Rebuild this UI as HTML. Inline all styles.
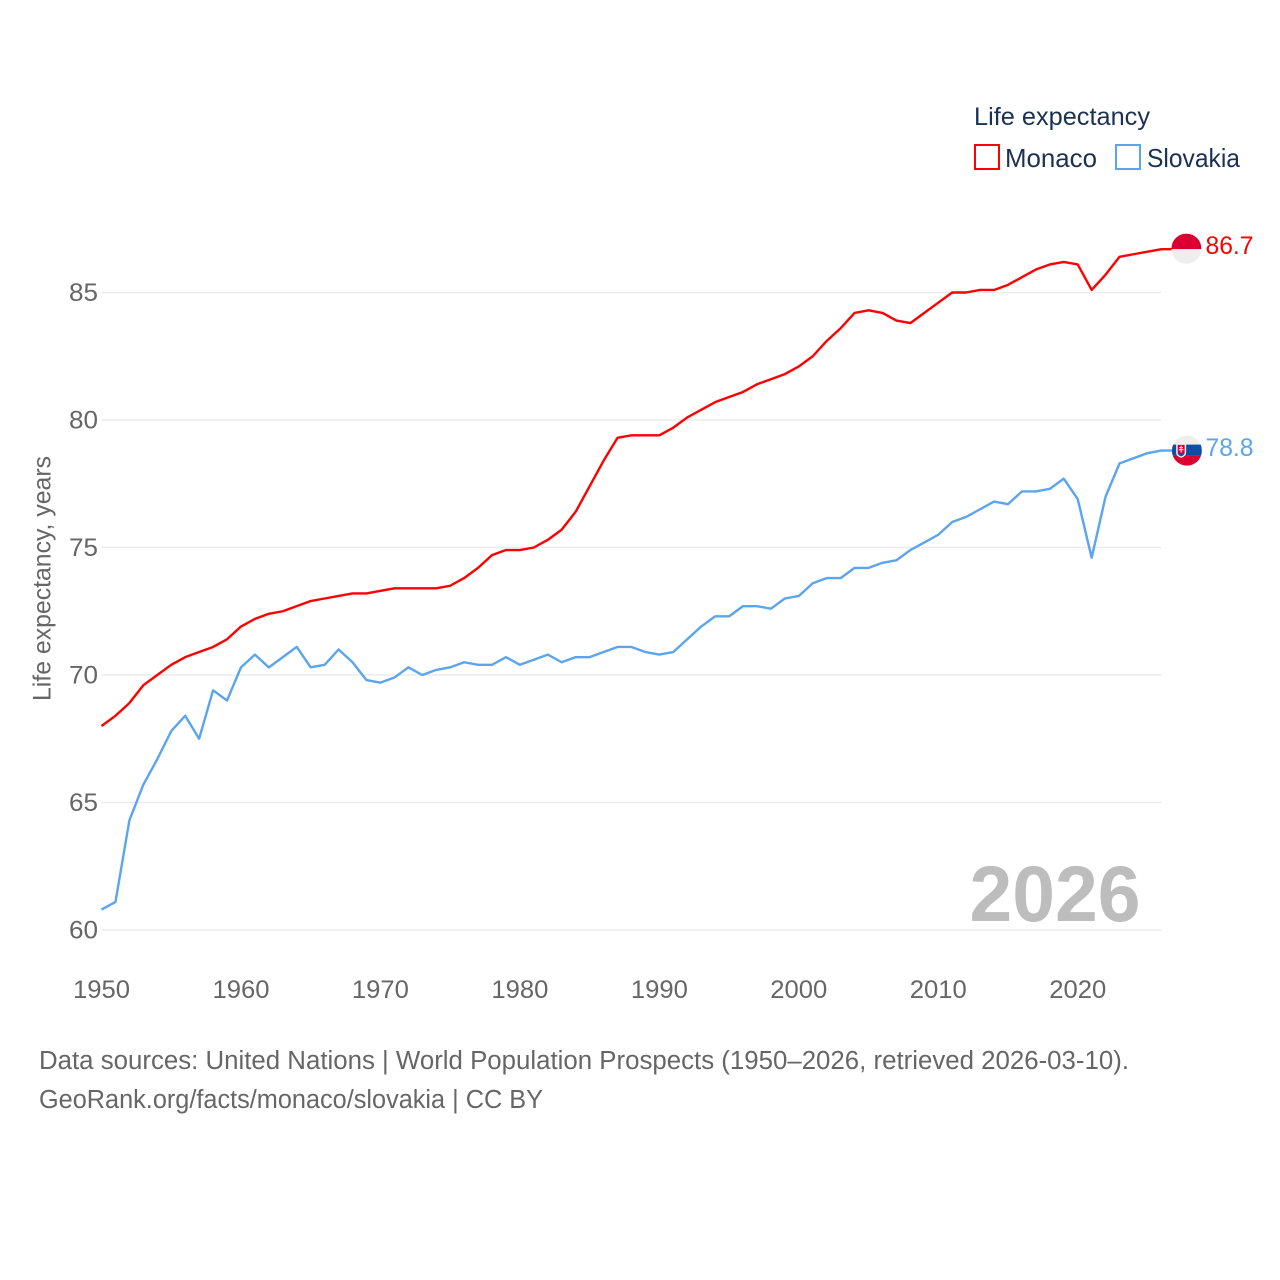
<!DOCTYPE html>
<html lang="en">
<head>
<meta charset="utf-8">
<title>Life expectancy: Monaco and Slovakia</title>
<style>
  html, body { margin: 0; padding: 0; background: #fff; }
  svg { display: block; font-family: "Liberation Sans", "DejaVu Sans", sans-serif; }
</style>
</head>
<body>
<svg id="chart" xmlns="http://www.w3.org/2000/svg" width="1280" height="1280" viewBox="0 0 1280 1280">
  <rect width="1280" height="1280" fill="#ffffff"/>
  <g id="grid"></g>
  <g id="yTicks"></g>
  <g id="xTicks"></g>
  <text transform="translate(50.5,701) rotate(-90)" font-size="25" fill="#666666" textLength="245" lengthAdjust="spacingAndGlyphs">Life expectancy, years</text>
  <text x="969.5" y="921" font-size="79" font-weight="bold" fill="#bdbdbd" textLength="171" lengthAdjust="spacingAndGlyphs">2026</text>
  <g id="series"></g>
  <g id="flagMonaco">
    <clipPath id="clipMonaco"><circle r="15"/></clipPath>
    <g clip-path="url(#clipMonaco)">
      <rect x="-15" y="-15" width="30" height="15.5" fill="#dc0030"/>
      <rect x="-15" y="0.5" width="30" height="15" fill="#eeeeee"/>
    </g>
  </g>
  <g id="flagSlovakia">
    <clipPath id="clipSlovakia"><circle r="15"/></clipPath>
    <g clip-path="url(#clipSlovakia)">
      <rect x="-15" y="-15" width="30" height="9" fill="#eeeeee"/>
      <rect x="-15" y="-6" width="30" height="11" fill="#0b4ea2"/>
      <rect x="-15" y="5" width="30" height="10.5" fill="#dc0030"/>
      <path d="M-10,-6.5 H-1.5 V2 Q-1.5,5 -5.7,6.5 Q-10,5 -10,2 Z" fill="#dc0030" stroke="#eeeeee" stroke-width="1.5"/>
      <path d="M-5.7,-5 V2 M-7.5,-3 H-4 M-8,-0.8 H-3.5" stroke="#ffffff" stroke-width="1" fill="none"/>
      <path d="M-9,3 Q-5.7,0.8 -2.5,3 Q-3.5,5 -5.7,5.8 Q-8,5 -9,3 Z" fill="#0b4ea2"/>
    </g>
  </g>
  <text id="labelMonaco" x="1205.5" font-size="25" fill="#ff0000" textLength="48" lengthAdjust="spacingAndGlyphs"></text>
  <text id="labelSlovakia" x="1205.5" font-size="25" fill="#5aa5ee" textLength="48" lengthAdjust="spacingAndGlyphs"></text>
  <g>
    <text x="974" y="125" font-size="25" fill="#1a3152" textLength="176" lengthAdjust="spacingAndGlyphs">Life expectancy</text>
    <g>
      <rect x="975" y="145" width="24" height="24" fill="none" stroke="#ff0000" stroke-width="2"/>
      <text x="1005" y="167" font-size="26" fill="#1a3152" textLength="92" lengthAdjust="spacingAndGlyphs">Monaco</text>
    </g>
    <g>
      <rect x="1116" y="145" width="24" height="24" fill="none" stroke="#5aa5ee" stroke-width="2"/>
      <text x="1147" y="167" font-size="26" fill="#1a3152" textLength="93" lengthAdjust="spacingAndGlyphs">Slovakia</text>
    </g>
  </g>
  <text x="39" y="1069" font-size="25.5" fill="#666666" textLength="1090" lengthAdjust="spacingAndGlyphs">Data sources: United Nations | World Population Prospects (1950–2026, retrieved 2026-03-10).</text>
  <text x="39" y="1108" font-size="25.5" fill="#666666" textLength="504" lengthAdjust="spacingAndGlyphs">GeoRank.org/facts/monaco/slovakia | CC BY</text>
</svg>
<script>
const startYear = 1950;
const xTickLabels = [1950, 1960, 1970, 1980, 1990, 2000, 2010, 2020];
const yTickLabels = [60, 65, 70, 75, 80, 85];
const monacoValues = [68.0,68.4,68.9,69.6,70.0,70.4,70.7,70.9,71.1,71.4,71.9,72.2,72.4,72.5,72.7,72.9,73.0,73.1,73.2,73.2,73.3,73.4,73.4,73.4,73.4,73.5,73.8,74.2,74.7,74.9,74.9,75.0,75.3,75.7,76.4,77.4,78.4,79.3,79.4,79.4,79.4,79.7,80.1,80.4,80.7,80.9,81.1,81.4,81.6,81.8,82.1,82.5,83.1,83.6,84.2,84.3,84.2,83.9,83.8,84.2,84.6,85.0,85.0,85.1,85.1,85.3,85.6,85.9,86.1,86.2,86.1,85.1,85.7,86.4,86.5,86.6,86.7];
const slovakiaValues = [60.8,61.1,64.3,65.7,66.7,67.8,68.4,67.5,69.4,69.0,70.3,70.8,70.3,70.7,71.1,70.3,70.4,71.0,70.5,69.8,69.7,69.9,70.3,70.0,70.2,70.3,70.5,70.4,70.4,70.7,70.4,70.6,70.8,70.5,70.7,70.7,70.9,71.1,71.1,70.9,70.8,70.9,71.4,71.9,72.3,72.3,72.7,72.7,72.6,73.0,73.1,73.6,73.8,73.8,74.2,74.2,74.4,74.5,74.9,75.2,75.5,76.0,76.2,76.5,76.8,76.7,77.2,77.2,77.3,77.7,76.9,74.6,77.0,78.3,78.5,78.7,78.8];

const NS = 'http://www.w3.org/2000/svg';
const xScale = function (year) { return 101.5 + (year - 1950) * 13.946; };
const yScale = function (v) { return 930 - (v - 60) * 25.5; };
const lastYear = startYear + monacoValues.length - 1;

const grid = document.getElementById('grid');
const yTicks = document.getElementById('yTicks');
const xTicks = document.getElementById('xTicks');
const seriesGroup = document.getElementById('series');

yTickLabels.forEach(function (t) {
  const line = document.createElementNS(NS, 'line');
  
  
  line.setAttribute('x1', xScale(startYear));
  line.setAttribute('x2', xScale(lastYear));
  line.setAttribute('y1', yScale(t));
  line.setAttribute('y2', yScale(t));
  line.setAttribute('stroke', '#ebebeb');
  line.setAttribute('stroke-width', '1.4');
  grid.appendChild(line);

  const label = document.createElementNS(NS, 'text');
  
  
  label.setAttribute('x', 98);
  label.setAttribute('y', yScale(t) + 8.5);
  label.setAttribute('text-anchor', 'end');
  label.setAttribute('font-size', '25');
  label.setAttribute('fill', '#666666');
  label.setAttribute('textLength', '29');
  label.setAttribute('lengthAdjust', 'spacingAndGlyphs');
  label.textContent = t;
  yTicks.appendChild(label);
});

xTickLabels.forEach(function (t) {
  const label = document.createElementNS(NS, 'text');
  
  
  label.setAttribute('x', xScale(t));
  label.setAttribute('y', 998);
  label.setAttribute('text-anchor', 'middle');
  label.setAttribute('font-size', '25');
  label.setAttribute('fill', '#666666');
  label.setAttribute('textLength', '57');
  label.setAttribute('lengthAdjust', 'spacingAndGlyphs');
  label.textContent = t;
  xTicks.appendChild(label);
});

function linePath(values) {
  let d = values.map(function (v, i) {
    return (i ? 'L' : 'M') + xScale(startYear + i).toFixed(2) + ',' + yScale(v).toFixed(2);
  }).join(' ');
  d += ' H' + (xScale(lastYear) + 12).toFixed(2);
  return d;
}

const monacoLine = document.createElementNS(NS, 'path');


monacoLine.setAttribute('d', linePath(monacoValues));
monacoLine.setAttribute('fill', 'none');
monacoLine.setAttribute('stroke', '#ff0000');
monacoLine.setAttribute('stroke-width', '2.4');
monacoLine.setAttribute('stroke-linejoin', 'round');
seriesGroup.appendChild(monacoLine);

const slovakiaLine = document.createElementNS(NS, 'path');


slovakiaLine.setAttribute('d', linePath(slovakiaValues));
slovakiaLine.setAttribute('fill', 'none');
slovakiaLine.setAttribute('stroke', '#5aa5ee');
slovakiaLine.setAttribute('stroke-width', '2.4');
slovakiaLine.setAttribute('stroke-linejoin', 'round');
seriesGroup.appendChild(slovakiaLine);

const monacoLast = monacoValues[monacoValues.length - 1];
const slovakiaLast = slovakiaValues[slovakiaValues.length - 1];
document.getElementById('flagMonaco').setAttribute('transform', 'translate(' + (xScale(lastYear) + 25) + ',' + (yScale(monacoLast) - 0.5) + ')');
document.getElementById('flagSlovakia').setAttribute('transform', 'translate(' + (xScale(lastYear) + 25.5) + ',' + yScale(slovakiaLast) + ')');
const labelMonaco = document.getElementById('labelMonaco');
labelMonaco.setAttribute('y', yScale(monacoLast) + 5);
labelMonaco.textContent = monacoLast.toFixed(1);
const labelSlovakia = document.getElementById('labelSlovakia');
labelSlovakia.setAttribute('y', yScale(slovakiaLast) + 5.5);
labelSlovakia.textContent = slovakiaLast.toFixed(1);
</script>
</body>
</html>
